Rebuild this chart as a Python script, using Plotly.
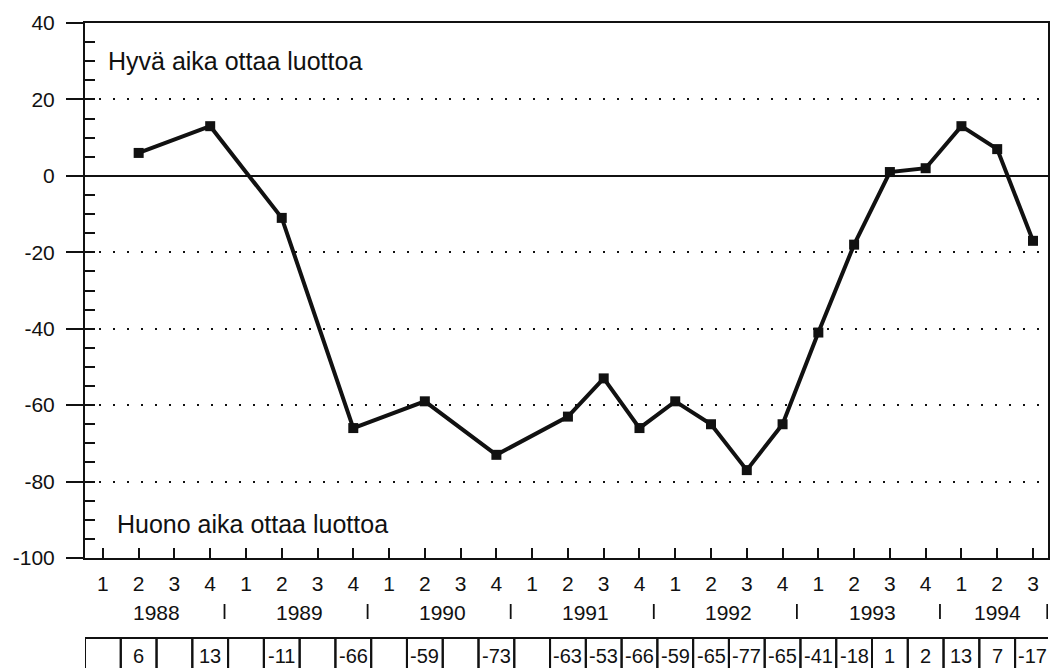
import plotly.graph_objects as go

# Quarterly survey balance, 1988 Q1 - 1994 Q3
years = ["1988", "1989", "1990", "1991", "1992", "1993", "1994"]
quarter_labels = ["1", "2", "3", "4"] * 6 + ["1", "2", "3"]
balance = [None, 6, None, 13,
           None, -11, None, -66,
           None, -59, None, -73,
           None, -63, -53, -66,
           -59, -65, -77, -65,
           -41, -18, 1, 2,
           13, 7, -17]
y_ticks = [40, 20, 0, -20, -40, -60, -80, -100]
note_good = "Hyvä aika ottaa luottoa"
note_bad = "Huono aika ottaa luottoa"

FONT = "Liberation Sans, Arial, Helvetica, sans-serif"
INK = "#111111"

idx = list(range(len(quarter_labels)))
px_ = [i for i, v in zip(idx, balance) if v is not None]
py_ = [v for v in balance if v is not None]

fig = go.Figure()
fig.add_trace(go.Scatter(
    x=px_, y=py_, mode="lines+markers",
    line=dict(color=INK, width=4),
    marker=dict(symbol="square", size=10, color=INK),
    showlegend=False, hoverinfo="skip",
))
# invisible trace to activate the secondary (minor tick) axis
fig.add_trace(go.Scatter(x=[0], y=[0], yaxis="y2", mode="markers",
                         marker=dict(opacity=0), showlegend=False, hoverinfo="skip"))

x_range = [-0.5, 26.42]

fig.update_layout(
    width=1052, height=668,
    margin=dict(l=85, r=2, t=23, b=110),
    paper_bgcolor="white", plot_bgcolor="white",
    font=dict(family=FONT, color=INK, size=21),
    xaxis=dict(
        range=x_range, tickmode="array", tickvals=idx, ticktext=quarter_labels,
        ticks="inside", ticklen=10, tickwidth=2, tickcolor=INK,
        showline=True, linewidth=2, linecolor=INK, mirror=True,
        showgrid=False, zeroline=False, ticklabelstandoff=6,
        tickfont=dict(size=21, family=FONT, color=INK),
    ),
    yaxis=dict(
        range=[-100, 40], tickmode="array", tickvals=y_ticks,
        ticktext=[str(t) for t in y_ticks],
        ticks="outside", ticklen=17, tickwidth=2, tickcolor=INK,
        showline=True, linewidth=2, linecolor=INK, mirror=True,
        showgrid=True, gridcolor=INK, gridwidth=2, griddash="2px,12px",
        zeroline=True, zerolinecolor=INK, zerolinewidth=1.5,
        ticklabelstandoff=7,
        tickfont=dict(size=21, family=FONT, color=INK),
    ),
    yaxis2=dict(
        overlaying="y", side="left", range=[-100, 40], dtick=5, tick0=0,
        ticks="inside", ticklen=10, tickwidth=2, tickcolor=INK,
        showticklabels=False, showgrid=False, zeroline=False, showline=False,
    ),
)

# Region notes
fig.add_annotation(x=0.022, y=30, xref="paper", yref="y", text=note_good,
                   showarrow=False, xanchor="left", yanchor="middle",
                   font=dict(size=25, family=FONT, color=INK))
fig.add_annotation(x=0.031, y=-91, xref="paper", yref="y", text=note_bad,
                   showarrow=False, xanchor="left", yanchor="middle",
                   font=dict(size=25, family=FONT, color=INK))

# Year row with separators
def py_pix(pix):
    return (558 - pix) / 535.0

year_row_y = py_pix(612)
for k, yr in enumerate(years):
    n_q = sum(1 for i in idx if i // 4 == k)
    center = 4 * k + (n_q - 1) / 2
    fig.add_annotation(x=center, y=year_row_y, xref="x", yref="paper", text=yr,
                       showarrow=False, xanchor="center", yanchor="middle",
                       font=dict(size=21, family=FONT, color=INK))
seps = [4 * k - 0.6 for k in range(len(years))] + [len(idx) - 0.6]
for s in seps:
    fig.add_shape(type="line", xref="x", yref="paper",
                  x0=s, x1=s, y0=py_pix(619), y1=py_pix(604),
                  line=dict(color=INK, width=1.8))

# Value table below the axis
tbl_top = py_pix(638)
tbl_bot = py_pix(690)
for i, v in zip(idx, balance):
    fig.add_shape(type="rect", xref="x", yref="paper",
                  x0=i - 0.5, x1=i + 0.5, y0=tbl_bot, y1=tbl_top,
                  line=dict(color=INK, width=2), fillcolor="rgba(0,0,0,0)")
    if v is not None:
        fig.add_annotation(x=i, y=py_pix(656), xref="x", yref="paper", text=str(v),
                           showarrow=False, xanchor="center", yanchor="middle",
                           font=dict(size=20, family=FONT, color=INK))

fig.write_html("out.html")
